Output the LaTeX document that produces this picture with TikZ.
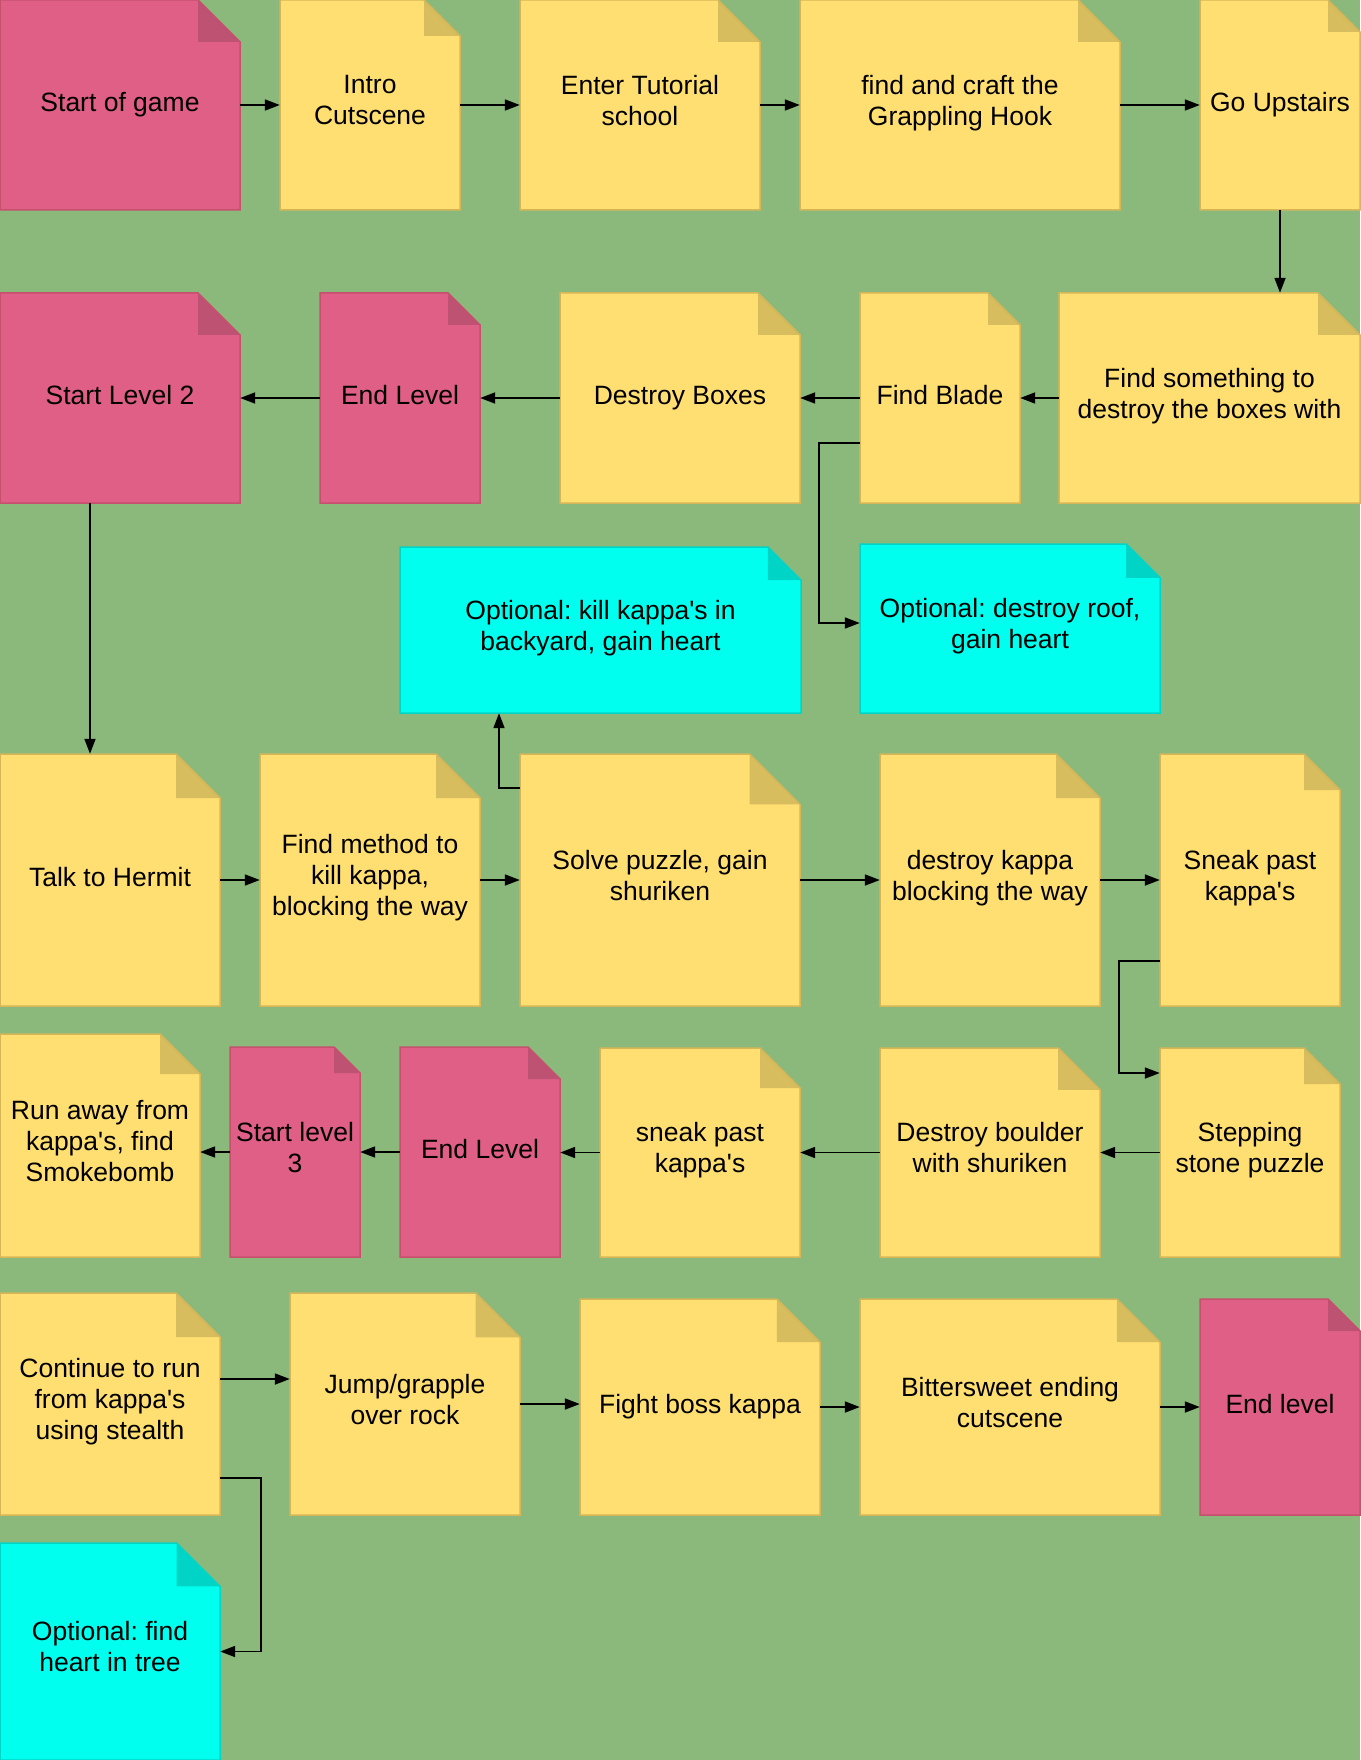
\documentclass[tikz,border=0pt]{standalone}
\usepackage{fontspec}
\setmainfont{Liberation Sans}
\usetikzlibrary{arrows.meta}

\definecolor{bggreen}{HTML}{8BB97C}
\definecolor{yelfill}{HTML}{FFDF71}
\definecolor{yelfold}{HTML}{D7BD5E}
\definecolor{yelline}{HTML}{D6B656}
\definecolor{pinkfill}{HTML}{DF5F86}
\definecolor{pinkfold}{HTML}{BE5272}
\definecolor{pinkline}{HTML}{C7506F}
\definecolor{cyanfill}{HTML}{00FFEE}
\definecolor{cyanfold}{HTML}{00D4C6}
\definecolor{cyanline}{HTML}{00D4C6}

\newcommand\ap{\textquotesingle}

% sticky note: name, colour kind, x1, y1, x2, y2, text (y grows downwards)
\newcommand\stickynote[7]{%
  \pgfmathsetmacro\nw{#5-#3}%
  \pgfmathsetmacro\nh{#6-#4}%
  \pgfmathsetmacro\nf{0.2*min(\nw,\nh)}%
  \fill[#2fill] (#3,#4) -- ({#5-\nf},#4) -- (#5,{#4+\nf}) -- (#5,#6) -- (#3,#6) -- cycle;
  \fill[#2fold] ({#5-\nf},#4) -- ({#5-\nf},{#4+\nf}) -- (#5,{#4+\nf}) -- cycle;
  \draw[#2line, noteborder] (#3,#4) -- ({#5-\nf},#4) -- (#5,{#4+\nf}) -- (#5,#6) -- (#3,#6) -- cycle;
  \node[notetext, minimum width=\nw pt, minimum height=\nh pt] (#1) at ({(#3+#5)/2},{(#4+#6)/2}) {#7};
}

\tikzset{
  noteborder/.style={line width=1.5pt, line join=miter},
  notetext/.style={inner sep=0pt, align=center, text=black,
    font=\fontsize{26.5}{31}\selectfont\frenchspacing,
    execute at begin node=\strut, execute at end node=\strut},
  conn/.style={draw=black, line width=1.8pt,
    -{Triangle[length=15pt,width=11pt]}},
}

\begin{document}
\begin{tikzpicture}[x=1pt, y=-1pt]
\useasboundingbox (0,0) rectangle (1360,1760);
\fill[bggreen] (0,0) rectangle (1360,1760);

% row 1
\stickynote{start}{pink}{0}{0}{240}{210}{Start of game}
\stickynote{intro}{yel}{280}{0}{460}{210}{Intro\\Cutscene}
\stickynote{tutorial}{yel}{520}{0}{760}{210}{Enter Tutorial\\school}
\stickynote{hook}{yel}{800}{0}{1120}{210}{find and craft the\\Grappling Hook}
\stickynote{upstairs}{yel}{1200}{0}{1360}{210}{Go Upstairs}
% row 2
\stickynote{levtwo}{pink}{0}{293}{240}{503}{Start Level 2}
\stickynote{endone}{pink}{320}{293}{480}{503}{End Level}
\stickynote{boxes}{yel}{560}{293}{800}{503}{Destroy Boxes}
\stickynote{blade}{yel}{860}{293}{1020}{503}{Find Blade}
\stickynote{weapon}{yel}{1059}{293}{1360}{503}{Find something to\\destroy the boxes with}
% optional side quests
\stickynote{backyard}{cyan}{400}{547}{801}{713}{Optional: kill kappa\ap s in\\backyard, gain heart}
\stickynote{roof}{cyan}{860}{544}{1160}{713}{Optional: destroy roof,\\gain heart}
% row 3
\stickynote{hermit}{yel}{0}{754}{220}{1006}{Talk to Hermit}
\stickynote{method}{yel}{260}{754}{480}{1006}{Find method to\\kill kappa,\\blocking the way}
\stickynote{puzzle}{yel}{520}{754}{800}{1006}{Solve puzzle, gain\\shuriken}
\stickynote{blocker}{yel}{880}{754}{1100}{1006}{destroy kappa\\blocking the way}
\stickynote{sneakone}{yel}{1160}{754}{1340}{1006}{Sneak past\\kappa\ap s}
% row 4
\stickynote{runaway}{yel}{0}{1034}{200}{1257}{Run away from\\kappa\ap s, find\\Smokebomb}
\stickynote{levthree}{pink}{230}{1047}{360}{1257}{Start level\\3}
\stickynote{endtwo}{pink}{400}{1047}{560}{1257}{End Level}
\stickynote{sneaktwo}{yel}{600}{1048}{800}{1257}{sneak past\\kappa\ap s}
\stickynote{boulder}{yel}{880}{1048}{1100}{1257}{Destroy boulder\\with shuriken}
\stickynote{stones}{yel}{1160}{1048}{1340}{1257}{Stepping\\stone puzzle}
% row 5
\stickynote{stealth}{yel}{0}{1293}{220}{1515}{Continue to run\\from kappa\ap s\\using stealth}
\stickynote{grapple}{yel}{290}{1293}{520}{1515}{Jump/grapple\\over rock}
\stickynote{boss}{yel}{580}{1299}{820}{1515}{Fight boss kappa}
\stickynote{ending}{yel}{860}{1299}{1160}{1515}{Bittersweet ending\\cutscene}
\stickynote{endthree}{pink}{1200}{1299}{1360}{1515}{End level}
\stickynote{tree}{cyan}{0}{1543}{220}{1760}{Optional: find\\heart in tree}

% connectors
\draw[conn] (start.east) -- (start.east -| intro.west);
\draw[conn] (intro.east) -- (intro.east -| tutorial.west);
\draw[conn] (tutorial.east) -- (tutorial.east -| hook.west);
\draw[conn] (hook.east) -- (hook.east -| upstairs.west);
\draw[conn] (upstairs.south) -- (upstairs.south |- weapon.north);
\draw[conn] (weapon.west) -- (weapon.west -| blade.east);
\draw[conn] (blade.west) -- (blade.west -| boxes.east);
\draw[conn] (boxes.west) -- (boxes.west -| endone.east);
\draw[conn] (endone.west) -- (endone.west -| levtwo.east);
\draw[conn] ([yshift=-45pt]blade.west) -- ++(-41,0) |- ([yshift=5.5pt]roof.west);
\draw[conn] ([xshift=-30pt]levtwo.south) -- ([xshift=-30pt]levtwo.south |- hermit.north);
\draw[conn] (hermit.east) -- (hermit.east -| method.west);
\draw[conn] (method.east) -- (method.east -| puzzle.west);
\draw[conn] (puzzle.east) -- (puzzle.east -| blocker.west);
\draw[conn] (blocker.east) -- (blocker.east -| sneakone.west);
\draw[conn] ([yshift=92pt]puzzle.west) -| ([xshift=-101.5pt]backyard.south);
\draw[conn] ([yshift=-81pt]sneakone.west) -- ++(-41,0) |- ([yshift=79.5pt]stones.west);
\draw[conn] (stones.west) -- (stones.west -| boulder.east);
\draw[conn] (boulder.west) -- (boulder.west -| sneaktwo.east);
\draw[conn] (sneaktwo.west) -- (sneaktwo.west -| endtwo.east);
\draw[conn] (endtwo.west) -- (endtwo.west -| levthree.east);
\draw[conn] (levthree.west) -- (levthree.west -| runaway.east);
\draw[conn] ([yshift=25pt]stealth.east) -- ([yshift=25pt]stealth.east -| grapple.west);
\draw[conn] ([yshift=-74pt]stealth.east) -- ++(41,0) |- (tree.east);
\draw[conn] (grapple.east) -- (grapple.east -| boss.west);
\draw[conn] (boss.east) -- (boss.east -| ending.west);
\draw[conn] (ending.east) -- (ending.east -| endthree.west);
\end{tikzpicture}
\end{document}
